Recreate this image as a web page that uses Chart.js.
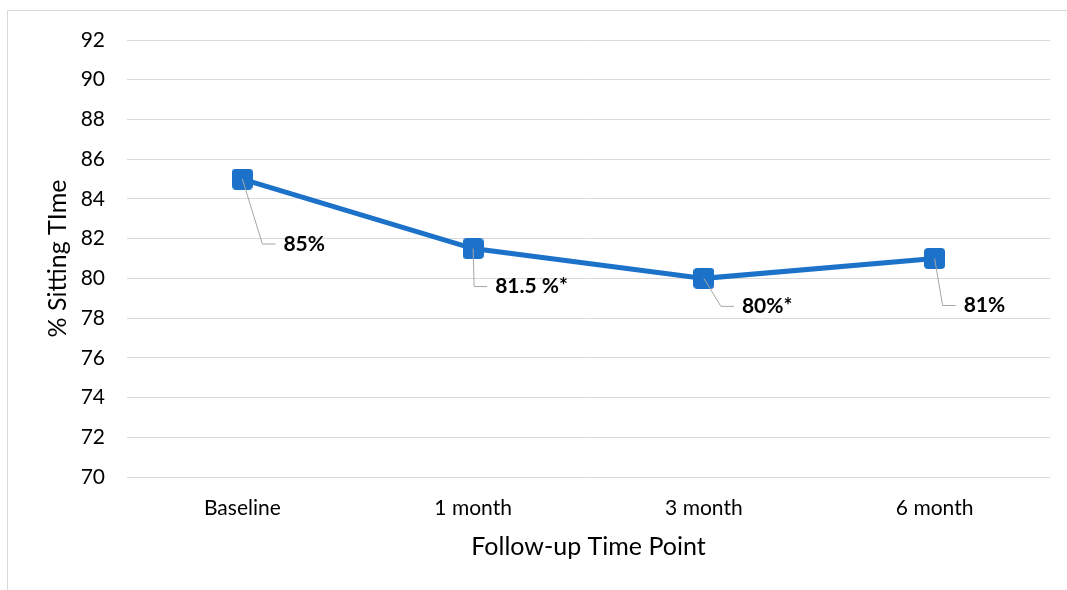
<!DOCTYPE html>
<html>
<head>
<meta charset="utf-8">
<script src="https://cdn.jsdelivr.net/npm/chart.js@4.4.1/dist/chart.umd.min.js"></script>
<style>
  html, body { margin: 0; padding: 0; background: #ffffff; }
  #wrap { position: relative; width: 1067px; height: 590px; overflow: hidden; }
  #frame { position: absolute; left: 7px; top: 10px; width: 1100px; height: 620px;
           border-left: 1px solid #d9d9d9; border-top: 1px solid #d9d9d9; }
  canvas { position: absolute; left: 0; top: 0; }
</style>
</head>
<body>
<div id="wrap">
  <div id="frame"></div>
  <canvas id="chart" width="1067" height="590"></canvas>
</div>
<script>
// Follow-up time points and mean share of the day spent sitting
const timePoints = ['Baseline', '1 month', '3 month', '6 month'];
const sittingPct = [85, 81.5, 80, 81];
const labelSuffix = ['%', ' %*', '%*', '%'];   // '*' marks a significant change
const yTicksMin = 70;
const yTicksMax = 92;
const yTicksStep = 2;

// Where each value callout sits relative to its marker (dx, dy of the text start)
const calloutOffsets = [
  { dx: 41, dy: 65 },
  { dx: 22, dy: 38 },
  { dx: 38, dy: 28 },
  { dx: 29, dy: 47 }
];

const BLUE = '#1c72c9';
const TEXT = '#000000';
const GRID = '#d9d9d9';
const FONT = 'Lato';

// Rounded-square marker
function makeMarker(size, r, color) {
  const c = document.createElement('canvas');
  c.width = size; c.height = size;
  const g = c.getContext('2d');
  g.fillStyle = color;
  g.beginPath();
  g.roundRect(0, 0, size, size, r);
  g.fill();
  return c;
}
const marker = makeMarker(21, 4, BLUE);

// Value callouts with a bent leader line back to the marker
const callouts = {
  id: 'callouts',
  afterDatasetsDraw(chart) {
    const ctx = chart.ctx;
    const meta = chart.getDatasetMeta(0);
    const values = chart.data.datasets[0].data;
    ctx.save();
    ctx.font = 'bold 21px ' + FONT;
    ctx.textBaseline = 'middle';
    ctx.textAlign = 'left';
    meta.data.forEach((pt, i) => {
      const off = calloutOffsets[i];
      const tx = pt.x + off.dx;
      const ty = pt.y + off.dy;
      const elbowX = tx - 21;
      ctx.strokeStyle = '#a6a6a6';
      ctx.lineWidth = 1;
      ctx.beginPath();
      ctx.moveTo(pt.x, pt.y);
      ctx.lineTo(elbowX, ty);
      ctx.lineTo(tx - 8, ty);
      ctx.stroke();
      ctx.fillStyle = TEXT;
      ctx.fillText(String(values[i]) + labelSuffix[i], tx, ty);
    });
    ctx.restore();
  }
};

new Chart(document.getElementById('chart'), {
  type: 'line',
  data: {
    labels: timePoints,
    datasets: [{
      data: sittingPct,
      borderColor: BLUE,
      backgroundColor: BLUE,
      borderWidth: 5,
      tension: 0,
      pointStyle: marker,
      pointRadius: 11,
      pointHoverRadius: 11,
      clip: false
    }]
  },
  options: {
    responsive: false,
    animation: false,
    devicePixelRatio: 1,
    layout: { padding: { left: 0, right: 17, top: 40, bottom: 0 } },
    plugins: {
      legend: { display: false },
      tooltip: { enabled: false }
    },
    scales: {
      x: {
        type: 'category',
        offset: true,
        grid: { display: false, drawTicks: false },
        border: { display: false },
        ticks: { color: TEXT, font: { family: FONT, size: 21 }, padding: 19, maxRotation: 0 },
        title: {
          display: true,
          text: 'Follow-up Time Point',
          color: TEXT,
          font: { family: FONT, size: 25 },
          padding: { top: 0, bottom: 28 }
        },
        afterFit(scale) { scale.height = 113; }
      },
      y: {
        min: yTicksMin,
        max: yTicksMax,
        grid: { color: GRID, lineWidth: 1, drawTicks: false },
        border: { display: false },
        ticks: { stepSize: yTicksStep, color: TEXT, font: { family: FONT, size: 21 }, padding: 22 },
        title: {
          display: true,
          text: '% Sitting TIme',
          color: TEXT,
          font: { family: FONT, size: 25 },
          padding: { top: 43, bottom: 0 }
        },
        afterFit(scale) { scale.width = 127; }
      }
    }
  },
  plugins: [callouts]
});
</script>
</body>
</html>
